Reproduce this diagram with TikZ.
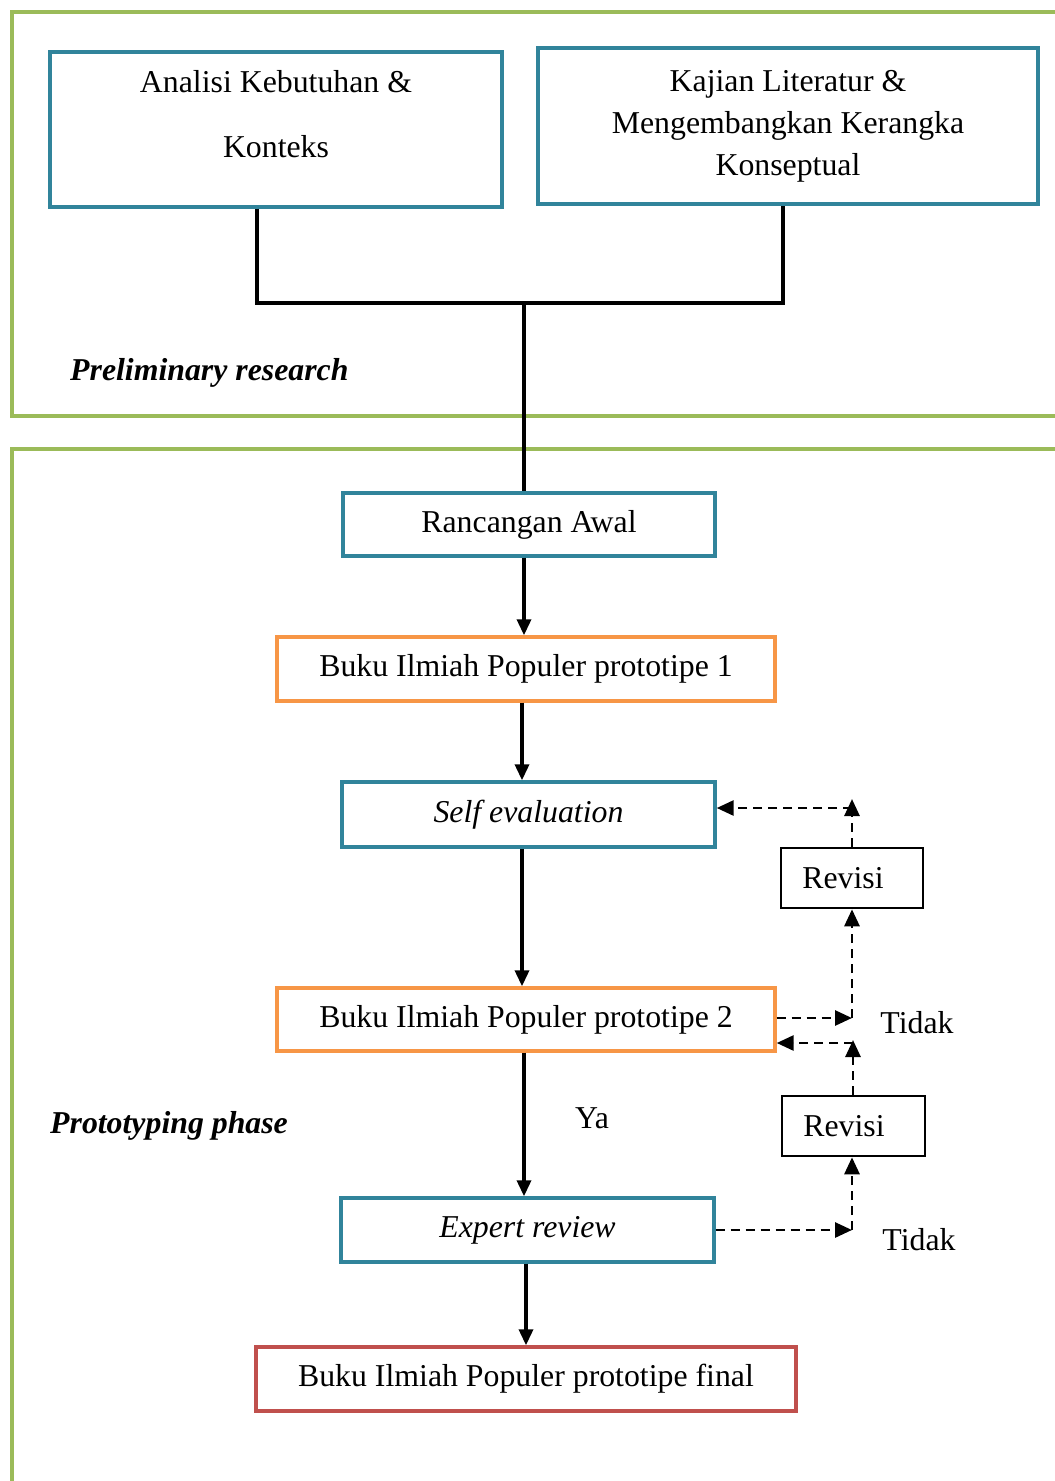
\documentclass[tikz,border=0pt]{standalone}
\usepackage{fontspec}
\setmainfont{Liberation Serif}
\usetikzlibrary{arrows.meta}
\definecolor{tealc}{HTML}{31849B}
\definecolor{orangec}{HTML}{F79646}
\definecolor{redc}{HTML}{C0504D}
\definecolor{greenc}{HTML}{9BBB59}
\begin{document}
\begin{tikzpicture}[x=1pt,y=-1pt,
  txt/.style={font=\fontsize{31.8}{38}\selectfont, inner sep=0pt},
  bx/.style={draw, line width=3.4pt, inner sep=0pt, font=\fontsize{31.8}{38}\selectfont},
  tbox/.style={bx, draw=tealc},
  obox/.style={bx, draw=orangec},
  rbox/.style={bx, draw=redc},
  kbox/.style={bx, draw=black, line width=2.6pt},
  phase/.style={draw=greenc, line width=4.8pt},
  conn/.style={line width=3.4pt},
  arr/.style={line width=3.4pt, -{Triangle[length=16pt,width=14pt]}},
  dsh/.style={line width=2.8pt, dash pattern=on 9pt off 6pt, -{Triangle[length=17pt,width=15pt]}}
]
\useasboundingbox (0,0) rectangle (1055,1481);
\fill[white] (0,0) rectangle (1055,1481);

% phase frames
\draw[phase] (1070,12) -- (12,12) -- (12,416) -- (1070,416);
\draw[phase] (1070,449) -- (12,449) -- (12,1495);

% boxes
\node[tbox, minimum width=452, minimum height=155] (A) at (276,129.5) {};
\node[txt, align=center, font=\fontsize{31.8}{65}\selectfont] (At) at (276,114) {Analisi Kebutuhan \&\\Konteks};
\node[tbox, minimum width=500, minimum height=156, align=center, font=\fontsize{31.8}{42}\selectfont] (K) at (788,126) {Kajian Literatur \&\\Mengembangkan Kerangka\\Konseptual};
\node[tbox, minimum width=372, minimum height=63] (R) at (529,524.5) {Rancangan Awal};
\node[obox, minimum width=498, minimum height=64] (P1) at (526,669) {Buku Ilmiah Populer prototipe 1};
\node[tbox, minimum width=373, minimum height=65] (S) at (528.5,814.5) {\itshape Self evaluation};
\node[obox, minimum width=498, minimum height=63] (P2) at (526,1019.5) {Buku Ilmiah Populer prototipe 2};
\node[tbox, minimum width=373, minimum height=64] (E) at (527.5,1230) {\itshape Expert review};
\node[rbox, minimum width=540, minimum height=64] (F) at (526,1379) {Buku Ilmiah Populer prototipe final};
\node[kbox, minimum width=142, minimum height=60] (V1) at (852,878) {Revisi\hspace*{18pt}};
\node[kbox, minimum width=143, minimum height=60] (V2) at (853.5,1126) {Revisi\hspace*{19pt}};

% labels
\node[txt, anchor=west] (L1) at (70,373) {\bfseries\itshape Preliminary research};
\node[txt, anchor=west] (L2) at (50,1126) {\bfseries\itshape Prototyping phase};
\node[txt] (ya) at (592,1118) {Ya};
\node[txt] (t1) at (917,1023) {Tidak};
\node[txt] (t2) at (919,1240) {Tidak};

% preliminary connectors
\coordinate (ja) at (257,303);
\coordinate (jk) at (783,303);
\coordinate (jm) at (524,303);
\draw[conn] (ja |- A.south) -- (ja) -- (jk) -- (jk |- K.south);
\draw[conn] (jm) -- (jm |- R.north);

% main flow
\draw[arr] (R.south -| 524,0) -- (P1.north -| 524,0);
\draw[arr] (P1.south -| 522,0) -- (S.north -| 522,0);
\draw[arr] (S.south -| 522,0) -- (P2.north -| 522,0);
\draw[arr] (P2.south -| 524,0) -- (E.north -| 524,0);
\draw[arr] (E.south -| 526,0) -- (F.north -| 526,0);

% revision loop 1
\coordinate (c1) at (852,1018);
\coordinate (c1t) at (852,799);
\coordinate (c1h) at (852,808);
\draw[dsh] (P2.east |- c1) -- (c1);
\draw[dsh] (c1) -- (V1.south -| c1);
\draw[dsh] (V1.north -| c1) -- (c1t);
\draw[dsh] (c1h) -- (S.east |- c1h);

% revision loop 2
\coordinate (c2) at (852,1230);
\coordinate (c2t) at (853,1040);
\coordinate (c2h) at (853,1043);
\draw[dsh] (E.east |- c2) -- (c2);
\draw[dsh] (c2) -- (V2.south -| c2);
\draw[dsh] (V2.north -| c2t) -- (c2t);
\draw[dsh] (c2h) -- (P2.east |- c2h);
\end{tikzpicture}
\end{document}
